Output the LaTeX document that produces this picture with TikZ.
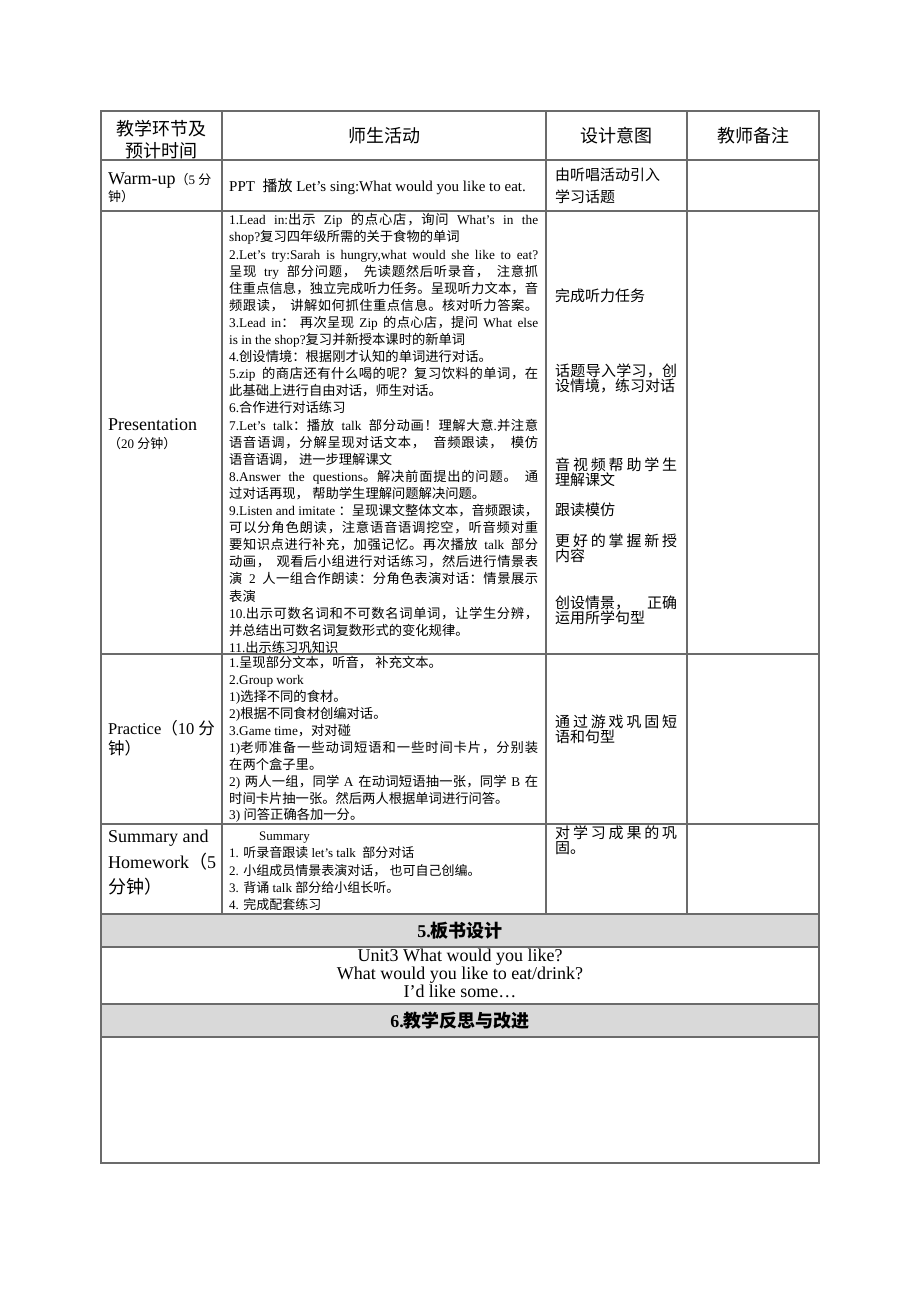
\documentclass[tikz,border=0pt]{standalone}
\usepackage{fontspec}
\setmainfont{Liberation Serif}
\newfontfamily\cjk{Noto Sans CJK SC}
\chardef\hanclass=9
\newcount\hanchar
\newcommand\sethan[2]{\hanchar=#1\relax
  \loop\XeTeXcharclass\hanchar=\hanclass
    \advance\hanchar by 1
  \ifnum\hanchar<#2\repeat}
\sethan{"3000}{"3040}
\sethan{"4E00}{"A000}
\sethan{"FF00}{"FFF0}
\XeTeXinterchartoks 0 \hanclass = {\cjk}
\XeTeXinterchartoks 4095 \hanclass = {\cjk}
\XeTeXinterchartoks \hanclass 0 = {\rmfamily}
\XeTeXinterchartoks \hanclass 4095 = {\rmfamily}
\XeTeXinterchartoks \hanclass \hanclass = {\hskip 0pt plus .02em minus .04em\relax}
\XeTeXinterchartokenstate=1
\newcommand\aimline[1]{\makebox[122pt][s]{#1}}
\usetikzlibrary{positioning}

\begin{document}
\begin{tikzpicture}[x=1pt,y=-1pt,
    rule/.style={draw=black!58,line width=1.3pt},
    band/.style={fill=gray!30},
    txt/.style={inner sep=0pt,anchor=base west},
    mid/.style={inner sep=0pt,anchor=base},
    headtext/.style={mid,font=\fontsize{18}{22}\selectfont},
    acttext/.style={txt,font=\fontsize{13.3}{17.1}\selectfont},
    aimtext/.style={txt,font=\fontsize{15}{15.5}\selectfont},
    bandtext/.style={mid,font=\bfseries\fontsize{18}{18}\selectfont}]
  \useasboundingbox (0,0) rectangle (920,1302);
  \fill[white] (0,0) rectangle (920,1302);
  \fill[band] (101,914) rectangle (819,947);
  \fill[band] (101,1004) rectangle (819,1037);
  \foreach \y in {160,211,654,824,914,947,1004,1037}
    \draw[rule] (101,\y) -- (819,\y);
  \foreach \x in {222,546,687}
    \draw[rule] (\x,111) -- (\x,914);
  \draw[rule] (101,111) rectangle (819,1163);

  \node[headtext] (hdStage) at (161.5,135.5) {\parbox[t]{112pt}{\centering 教学环节及\\预计时间}};
  \node[headtext] (hdActivity) at (384,142.8) {师生活动};
  \node[headtext] (hdAim) at (616.5,142.8) {设计意图};
  \node[headtext] (hdNote) at (753,142.8) {教师备注};

  \node[txt,font=\fontsize{18}{17}\selectfont] (warmStage) at (108,184)
    {\parbox[t]{112pt}{Warm-up{\fontsize{13}{17}\selectfont（5 分\newline 钟）}}};
  \node[txt,font=\fontsize{15}{18}\selectfont] (warmAct) at (229,191.4)
    {PPT\ \ 播放 Let’s sing:What would you like to eat.};
  \node[aimtext,font=\fontsize{15}{22}\selectfont] (warmAim) at (555,180.4)
    {\parbox[t]{122pt}{由听唱活动引入\newline 学习话题}};

  \node[txt,font=\fontsize{18}{18}\selectfont] (presStage) at (108,430)
    {\parbox[t]{112pt}{Presentation\newline {\fontsize{13}{18}\selectfont（20 分钟）}}};
  \node[acttext] (presAct) at (229,224.8) {\parbox[t]{309pt}{%
    1.Lead in:出示 Zip 的点心店，询问 What's in the\linebreak
    shop?复习四年级所需的关于食物的单词\newline
    2.Let's try:Sarah is hungry,what would she like to eat?\linebreak
    呈现 try 部分问题， 先读题然后听录音， 注意抓\linebreak
    住重点信息，独立完成听力任务。呈现听力文本，音\linebreak
    频跟读， 讲解如何抓住重点信息。核对听力答案。\linebreak
    3.Lead in： 再次呈现 Zip 的点心店，提问 What else\linebreak
    is in the shop?复习并新授本课时的新单词\newline
    4.创设情境：根据刚才认知的单词进行对话。\newline
    5.zip 的商店还有什么喝的呢？复习饮料的单词，在\linebreak
    此基础上进行自由对话，师生对话。\newline
    6.合作进行对话练习\newline
    7.Let's talk：播放 talk 部分动画！理解大意.并注意\linebreak
    语音语调，分解呈现对话文本， 音频跟读， 模仿\linebreak
    语音语调， 进一步理解课文\newline
    8.Answer the questions。解决前面提出的问题。 通\linebreak
    过对话再现， 帮助学生理解问题解决问题。\newline
    9.Listen and imitate ：呈现课文整体文本，音频跟读，\linebreak
    可以分角色朗读，注意语音语调挖空，听音频对重\linebreak
    要知识点进行补充，加强记忆。再次播放 talk 部分\linebreak
    动画， 观看后小组进行对话练习，然后进行情景表\linebreak
    演 2 人一组合作朗读：分角色表演对话：情景展示\linebreak
    表演\newline
    10.出示可数名词和不可数名词单词，让学生分辨，\linebreak
    并总结出可数名词复数形式的变化规律。\newline
    11.出示练习巩知识}};
  \node[aimtext] (presAimA) at (555,301.4) {完成听力任务};
  \node[aimtext] (presAimB) at (555,376.4)
    {\parbox[t]{122pt}{\aimline{话题导入学习，创}\newline 设情境，练习对话}};
  \node[aimtext] (presAimC) at (555,470.4)
    {\parbox[t]{122pt}{\aimline{音视频帮助学生}\newline 理解课文}};
  \node[aimtext] (presAimD) at (555,515.4) {跟读模仿};
  \node[aimtext] (presAimE) at (555,546.4)
    {\parbox[t]{122pt}{\aimline{更好的掌握新授}\newline 内容}};
  \node[aimtext] (presAimF) at (555,608.4)
    {\parbox[t]{122pt}{\aimline{创设情景，\hfill 正确}\newline 运用所学句型}};

  \node[txt,font=\fontsize{16.5}{20}\selectfont] (pracStage) at (108,734)
    {\parbox[t]{112pt}{Practice（10 分\newline 钟）}};
  \node[acttext,font=\fontsize{13.3}{16.9}\selectfont] (pracAct) at (229,667.8) {\parbox[t]{309pt}{%
    1.呈现部分文本，听音， 补充文本。\newline
    2.Group work\newline
    1)选择不同的食材。\newline
    2)根据不同食材创编对话。\newline
    3.Game time，对对碰\newline
    1)老师准备一些动词短语和一些时间卡片，分别装\linebreak
    在两个盒子里。\newline
    2) 两人一组，同学 A 在动词短语抽一张，同学 B 在\linebreak
    时间卡片抽一张。然后两人根据单词进行问答。\newline
    3) 问答正确各加一分。}};
  \node[aimtext] (pracAim) at (555,727.4)
    {\parbox[t]{122pt}{\aimline{通过游戏巩固短}\newline 语和句型}};

  \node[txt,font=\fontsize{18}{25.5}\selectfont] (sumStage) at (108,842.5)
    {\parbox[t]{112pt}{Summary and\newline Homework（5\newline 分钟）}};
  \node[acttext,font=\fontsize{13}{17.25}\selectfont] (sumAct) at (229,840.7) {\parbox[t]{309pt}{%
    \hspace*{30pt}Summary\newline
    1. 听录音跟读 let's talk\ \ 部分对话\newline
    2. 小组成员情景表演对话， 也可自己创编。\newline
    3. 背诵 talk 部分给小组长听。\newline
    4. 完成配套练习}};
  \node[aimtext] (sumAim) at (555,838.4)
    {\parbox[t]{122pt}{\aimline{对学习成果的巩}\newline 固。}};

  \node[bandtext] (boardHead) at (460,937.8) {5.板书设计};
  \node[mid,font=\fontsize{18}{18}\selectfont] (boardText) at (460,961)
    {\parbox[t]{400pt}{\centering Unit3 What would you like?\\
      What would you like to eat/drink?\\I’d like some…}};
  \node[bandtext] (reflectHead) at (460,1027.8) {6.教学反思与改进};
\end{tikzpicture}
\end{document}
